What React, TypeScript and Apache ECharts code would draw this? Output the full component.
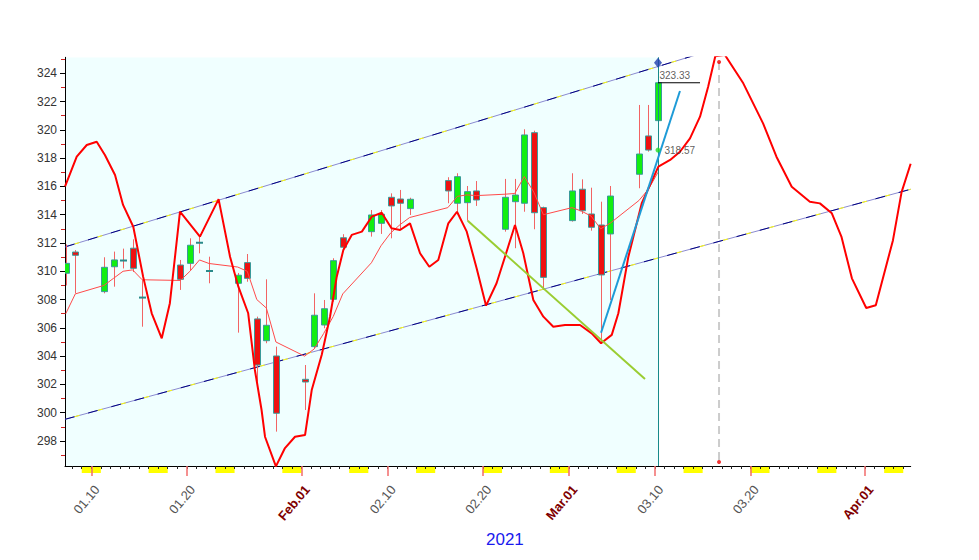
import { useEffect, useRef } from "react";
import * as echarts from "echarts";

// x axis in day-of-year units (Jan 1 = 1); candles sit slightly right of the day tick
const OFFSET = 0.325;
const LABEL_SHIFT = 0.6;
const X_MIN = 7.247;
const X_MAX = 95.78;
const Y_MIN = 296.23;
const Y_MAX = 325.13;

const tradeDays = [7, 8, 11, 12, 13, 14, 15, 19, 20, 21, 22, 25, 26, 27, 28, 29, 32, 33, 34, 35, 36, 39, 40, 41, 42, 43, 47, 48, 49, 50, 53, 54, 55, 56, 57, 60, 61, 62, 63, 64, 67, 68, 69];
const opens = [309.86, 311.36, 308.56, 310.32, 310.78, 311.63, 308.16, 310.44, 310.56, 312.04, 310.04, 309.15, 310.61, 306.63, 305.09, 304.01, 302.36, 304.67, 306.2, 308.02, 312.37, 312.8, 313.39, 315.23, 315.11, 314.43, 316.41, 314.81, 314.85, 315.68, 312.97, 314.92, 314.81, 319.8, 314.5, 313.58, 315.8, 314.05, 313.27, 312.64, 316.86, 319.57, 320.65];
const closes = [310.56, 311.13, 310.28, 310.8, 310.74, 310.21, 308.12, 309.43, 311.84, 312.0, 310.0, 309.72, 309.5, 303.37, 306.18, 299.96, 302.17, 306.89, 307.35, 310.75, 311.7, 313.98, 314.03, 314.62, 314.81, 315.09, 315.68, 316.69, 315.63, 315.04, 315.23, 315.39, 319.64, 314.14, 309.57, 315.68, 314.28, 313.11, 309.74, 315.32, 318.29, 318.57, 323.33];
const lows = [309.0, 308.44, 308.44, 308.91, 310.2, 309.95, 306.08, 308.68, 310.09, 311.27, 309.15, 305.66, 309.26, 302.19, 304.91, 298.66, 300.19, 304.55, 305.97, 307.85, 311.51, 312.45, 312.64, 312.33, 312.92, 313.98, 314.81, 314.21, 313.57, 314.62, 312.8, 311.63, 314.21, 312.97, 308.68, 313.51, 314.05, 312.87, 304.91, 307.97, 315.87, 318.46, 320.4];
const highs = [311.9, 311.5, 310.99, 311.39, 311.6, 312.26, 309.38, 310.8, 312.33, 312.45, 311.03, 309.88, 311.22, 306.79, 309.43, 304.67, 303.37, 308.44, 307.97, 310.92, 312.62, 314.33, 314.33, 315.51, 315.75, 315.2, 316.65, 316.93, 316.03, 316.38, 316.53, 316.53, 320.04, 319.94, 314.57, 316.93, 316.5, 315.91, 314.92, 316.03, 321.76, 321.76, 324.5];
const maValues = [307.0, 308.4, 309.0, 309.5, 310.0, 310.1, 309.4, 309.35, 310.0, 310.8, 310.55, 310.3, 310.0, 308.0, 307.4, 305.0, 304.0, 304.5, 305.6, 306.8, 308.4, 310.6, 311.8, 312.7, 313.3, 313.8, 314.5, 315.3, 315.4, 315.35, 315.45, 315.5, 316.7, 315.6, 314.0, 314.5, 314.25, 313.9, 313.0, 313.4, 315.0, 315.8, 317.0];

const cycleCurve = [
  [6.93, 316.0], [8.15, 318.1], [9.2, 318.93], [10.24, 319.16], [11.1, 318.22], [12.16, 316.81], [13.0, 314.69],
  [14.07, 313.15], [15.1, 309.62], [16.0, 307.03], [17.05, 305.26], [17.9, 307.74], [18.96, 314.21], [21.05, 312.45],
  [23.0, 315.1], [24.2, 311.03], [25.07, 308.91], [26.1, 307.03], [26.8, 303.02], [27.5, 300.19], [27.86, 298.3],
  [29.0, 296.2], [29.95, 297.5], [31.0, 298.3], [32.05, 298.42], [32.75, 301.6], [33.8, 304.1], [34.67, 306.8],
  [35.37, 309.62], [36.06, 311.5], [36.94, 312.57], [38.0, 312.8], [39.03, 313.86], [40.08, 314.14], [41.1, 313.04],
  [42.0, 312.92], [43.04, 313.39], [44.09, 311.27], [45.06, 310.32], [46.0, 310.8], [47.05, 313.39], [47.96, 314.21],
  [48.98, 312.8], [50.02, 310.2], [51.0, 307.57], [52.1, 309.15], [53.1, 311.27], [54.03, 313.27], [54.9, 311.27],
  [55.95, 307.97], [57.0, 306.79], [58.04, 306.08], [59.27, 306.2], [60.84, 306.2], [62.06, 305.61], [63.04, 304.91],
  [64.16, 305.5], [64.85, 307.03], [65.9, 311.03], [67.3, 314.81], [69.04, 317.4], [70.27, 317.87], [71.3, 318.45],
  [72.35, 319.4], [73.4, 320.93], [74.25, 323.05], [75.0, 325.2], [76.0, 325.3], [77.93, 323.29], [80.0, 320.46],
  [81.4, 318.1], [83.0, 315.98], [84.9, 314.92], [85.95, 314.8], [87.2, 314.1], [88.2, 312.45], [89.3, 309.5],
  [90.8, 307.4], [91.8, 307.6], [93.6, 312.2], [94.5, 315.6], [95.45, 317.6],
];

const upperChannel = [[6.92, 311.72], [95.46, 329.92]];
const lowerChannel = [[6.92, 299.53], [95.46, 315.8]];
const greenTrend = [[49.08, 313.57], [67.64, 302.38]];
const blueTrend = [[63.04, 305.65], [71.3, 322.75]];
const priceLineEnd = 73.4;
const markerTop = 324.75;
const projectionDay = 75.39;
const projectionRange = [296.52, 324.8];

const labelDays = [10, 20, 32, 41, 51, 60, 69, 79, 91];
const labelTexts = ["01.10", "01.20", "Feb.01", "02.10", "02.20", "Mar.01", "03.10", "03.20", "Apr.01"];
const monthStartDays = [32, 60, 91];
const weekendSaturdays = [9, 16, 23, 30, 37, 44, 51, 58, 65, 72, 79, 86, 93];
const yLabelValues = [298, 300, 302, 304, 306, 308, 310, 312, 314, 316, 318, 320, 322, 324];
const yMinorValues = [297, 299, 301, 303, 305, 307, 309, 311, 313, 315, 317, 319, 321, 323, 325];
const yearText = "2021";

const FONT = "'Liberation Sans', Arial, sans-serif";

export default function App() {
  const ref = useRef<HTMLDivElement>(null);

  useEffect(() => {
    document.body.style.margin = "0";
    if (!ref.current) return;
    const chart = echarts.init(ref.current, undefined, { renderer: "svg" });

    const dayTicks: number[] = [];
    for (let d = 8; d <= 95; d++) dayTicks.push(d);

    const lastDay = tradeDays[tradeDays.length - 1];
    const lastIdx = closes.length - 1;
    const shift = (pts: number[][]) => pts.map((p) => [p[0] + OFFSET, p[1]]);

    const candleData = tradeDays.map((d, i) => [d + OFFSET, opens[i], closes[i], lows[i], highs[i]]);
    const maData = tradeDays.map((d, i) => [d + OFFSET, maValues[i]]);

    const option: any = {
      animation: false,
      backgroundColor: "#ffffff",
      grid: { left: 65, right: 68.3, top: 57.3, bottom: 94, containLabel: false },
      xAxis: [
        {
          type: "value",
          min: X_MIN,
          max: X_MAX,
          position: "bottom",
          axisLine: { show: true, onZero: false, lineStyle: { color: "#000", width: 1 } },
          axisTick: { show: true, customValues: dayTicks, length: 3, lineStyle: { color: "#222", width: 1 } },
          axisLabel: { show: false },
          splitLine: { show: false },
        },
        {
          type: "value",
          min: X_MIN,
          max: X_MAX,
          position: "bottom",
          axisLine: { show: false, onZero: false },
          axisTick: { show: true, customValues: labelDays, length: 10, lineStyle: { color: "#f26b6b", width: 1.5 } },
          axisLabel: {
            show: true,
            customValues: labelDays.map((d) => d + LABEL_SHIFT),
            rotate: 50,
            margin: 21,
            fontSize: 13,
            fontFamily: FONT,
            formatter: (v: number) => {
              const d = Math.round(v - LABEL_SHIFT);
              const idx = labelDays.indexOf(d);
              if (idx < 0) return "";
              return monthStartDays.includes(d) ? `{m|${labelTexts[idx]}}` : `{n|${labelTexts[idx]}}`;
            },
            rich: {
              m: { fontSize: 13, fontWeight: "bold", color: "#800000", fontFamily: FONT },
              n: { fontSize: 13, color: "#555555", fontFamily: FONT },
            },
          },
          splitLine: { show: false },
        },
      ],
      yAxis: [
        {
          type: "value",
          min: Y_MIN,
          max: Y_MAX,
          position: "left",
          axisLine: { show: true, onZero: false, lineStyle: { color: "#000", width: 1 } },
          axisTick: { show: true, customValues: yLabelValues, length: 5, lineStyle: { color: "#000" } },
          axisLabel: { show: true, customValues: yLabelValues, margin: 8, fontSize: 12, color: "#333", fontFamily: FONT },
          splitLine: { show: false },
        },
        {
          type: "value",
          min: Y_MIN,
          max: Y_MAX,
          position: "left",
          axisLine: { show: false, onZero: false },
          axisTick: { show: true, customValues: yMinorValues, length: 4, lineStyle: { color: "#d02020" } },
          axisLabel: { show: false },
          splitLine: { show: false },
        },
      ],
      graphic: [
        {
          type: "text",
          left: 486,
          top: 531,
          style: { text: yearText, fontSize: 17, fill: "#1a1aee", fontFamily: FONT },
        },
      ],
      series: [
        {
          // shaded history area (up to the last candle)
          type: "custom",
          z: -2,
          silent: true,
          clip: true,
          data: [[X_MIN, lastDay + OFFSET]],
          renderItem: (_p: any, api: any) => {
            const a = api.coord([api.value(0), Y_MAX]);
            const b = api.coord([api.value(1), Y_MIN]);
            return { type: "rect", shape: { x: a[0], y: a[1], width: b[0] - a[0], height: b[1] - a[1] }, style: { fill: "#f0ffff" } };
          },
        },
        {
          // weekend markers under the axis
          type: "custom",
          z: -1,
          silent: true,
          clip: false,
          data: weekendSaturdays.map((d) => [d, d + 2]),
          renderItem: (_p: any, api: any) => {
            const a = api.coord([api.value(0), Y_MIN]);
            const b = api.coord([api.value(1), Y_MIN]);
            return { type: "rect", shape: { x: a[0], y: a[1] + 1, width: b[0] - a[0], height: 6 }, style: { fill: "#ffff00" } };
          },
        },
        // channel lines
        ...[upperChannel, lowerChannel].flatMap((ch) => [
          { type: "line", z: 1, silent: true, symbol: "none", data: shift(ch), lineStyle: { color: "#8a8ad0", width: 1 } },
          { type: "line", z: 1, silent: true, symbol: "none", data: shift(ch), lineStyle: { color: "#000080", width: 1, type: [10, 14] } },
          { type: "line", z: 1, silent: true, symbol: "none", data: shift(ch), lineStyle: { color: "#ffff00", width: 1, type: [5, 19], dashOffset: 14 } },
        ]),
        {
          type: "custom",
          z: 3,
          silent: true,
          clip: true,
          data: candleData,
          encode: { x: 0, y: [1, 2, 3, 4] },
          renderItem: (_p: any, api: any) => {
            const x = api.value(0);
            const o = api.value(1);
            const c = api.value(2);
            const pO = api.coord([x, o]);
            const pC = api.coord([x, c]);
            const pL = api.coord([x, api.value(3)]);
            const pH = api.coord([x, api.value(4)]);
            const cx = Math.round(pO[0]) + 0.5;
            const children: any[] = [
              { type: "line", shape: { x1: cx, y1: pH[1], x2: cx, y2: pL[1] }, style: { stroke: "#f26464", lineWidth: 1 } },
            ];
            const top = Math.min(pO[1], pC[1]);
            const bot = Math.max(pO[1], pC[1]);
            if (bot - top < 1.5) {
              const ym = (top + bot) / 2;
              children.push({ type: "line", shape: { x1: cx - 3.5, y1: ym, x2: cx + 3.5, y2: ym }, style: { stroke: "#2a8a8a", lineWidth: 2 } });
            } else {
              children.push({
                type: "rect",
                shape: { x: cx - 3, y: top, width: 6, height: bot - top },
                style: { fill: c >= o ? "#11ee11" : "#ee1111", stroke: "#3a9a9a", lineWidth: 1 },
              });
            }
            return { type: "group", children };
          },
        },
        {
          type: "line",
          z: 4,
          silent: true,
          symbol: "none",
          data: maData,
          lineStyle: { color: "#ff4a4a", width: 1 },
          markLine: {
            silent: true,
            symbol: "none",
            label: { show: false },
            lineStyle: { color: "#178a8a", width: 1, type: "solid" },
            data: [{ xAxis: lastDay + OFFSET }],
          },
        },
        { type: "line", z: 5, silent: true, symbol: "none", data: shift(cycleCurve), lineStyle: { color: "#ff0000", width: 2 } },
        { type: "line", z: 5, silent: true, symbol: "none", data: shift(greenTrend), lineStyle: { color: "#9acd32", width: 2 } },
        { type: "line", z: 5, silent: true, symbol: "none", data: shift(blueTrend), lineStyle: { color: "#1e9bd7", width: 2 } },
        {
          type: "line",
          z: 5,
          silent: true,
          symbol: "none",
          data: shift([[lastDay, closes[lastIdx]], [priceLineEnd, closes[lastIdx]]]),
          lineStyle: { color: "#000000", width: 1 },
        },
        {
          type: "line",
          z: 5,
          silent: true,
          symbol: "none",
          data: shift([[projectionDay, projectionRange[1]], [projectionDay, projectionRange[0]]]),
          lineStyle: { color: "#cccccc", width: 2, type: [8, 5] },
        },
        {
          type: "scatter",
          z: 6,
          silent: true,
          symbol: "circle",
          symbolSize: 4,
          itemStyle: { color: "#ee0000" },
          data: shift([[projectionDay, projectionRange[1]], [projectionDay, projectionRange[0]]]),
        },
        {
          type: "scatter",
          z: 6,
          silent: true,
          symbol: "diamond",
          symbolSize: [8, 10],
          itemStyle: { color: "#1f3fae" },
          data: shift([[lastDay, markerTop]]),
        },
        {
          type: "scatter",
          z: 6,
          silent: true,
          symbol: "circle",
          symbolSize: 1,
          itemStyle: { color: "rgba(0,0,0,0)" },
          data: shift([[lastDay, closes[lastIdx]]]),
          label: {
            show: true,
            position: "right",
            distance: 1,
            offset: [0, -7],
            formatter: (p: any) => p.value[1].toFixed(2),
            fontSize: 10,
            color: "#333",
            fontFamily: FONT,
          },
        },
        {
          type: "scatter",
          z: 6,
          silent: true,
          symbol: "circle",
          symbolSize: 5,
          itemStyle: { color: "#22dd22" },
          data: shift([[lastDay, closes[lastIdx - 1]]]),
          label: {
            show: true,
            position: "right",
            distance: 4,
            formatter: (p: any) => p.value[1].toFixed(2),
            fontSize: 10,
            color: "#333",
            fontFamily: FONT,
          },
        },
      ],
    };

    chart.setOption(option);
    return () => chart.dispose();
  }, []);

  return <div ref={ref} style={{ width: 979, height: 560 }} />;
}
